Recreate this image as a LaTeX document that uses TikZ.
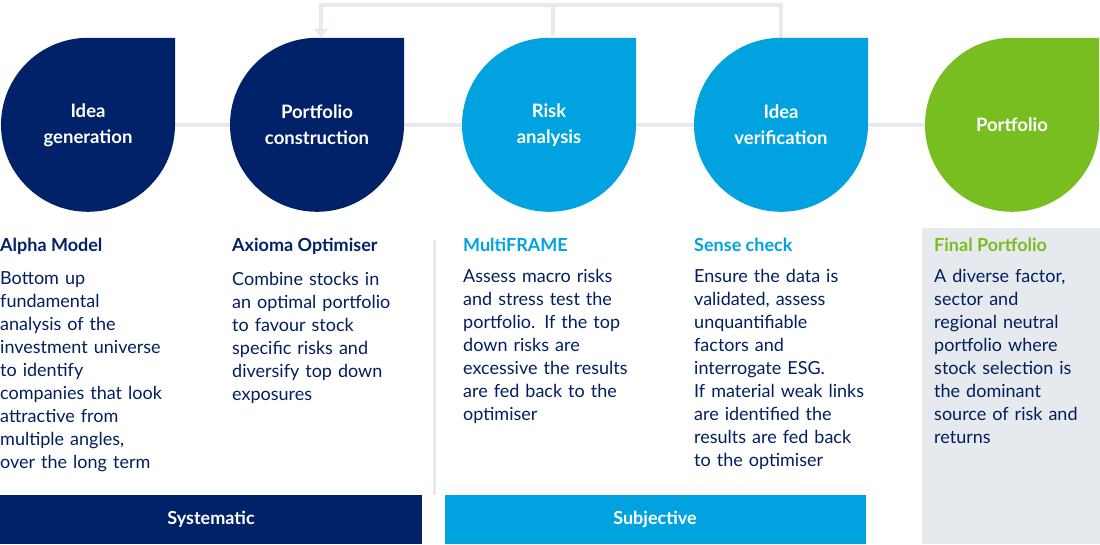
\documentclass[tikz,border=0pt]{standalone}
\usepackage{fontspec}
\setmainfont{Lato}
\usetikzlibrary{positioning,arrows.meta}
\definecolor{navy}{RGB}{1,33,105}
\definecolor{sky}{RGB}{0,163,224}
\definecolor{leafgreen}{RGB}{120,190,32}
\definecolor{rule}{RGB}{230,233,237}
\newcommand{\leafshape}[2]{%
  \fill[#2] (#1.north) arc[start angle=90, end angle=360, radius=87pt]
    -- ([xshift=87pt]#1.north) -- cycle;}
\begin{document}
\begin{tikzpicture}[x=1pt, y=-1pt,
    c/.style={circle, minimum size=174pt, inner sep=0pt, align=center,
      text=white, font=\fontsize{18.5}{26}\selectfont\bfseries},
    head/.style={anchor=north west, inner sep=0pt, font=\fontsize{18}{22}\selectfont\bfseries},
    body/.style={anchor=north west, inner sep=0pt, text width=185pt, align=left,
      font=\fontsize{18}{23}\selectfont, text=navy!90!black},
    bar/.style={text=white, font=\fontsize{18}{22}\selectfont\bfseries}]
  \useasboundingbox (0,0) rectangle (1100,544);
  % background for the last column
  \fill[rule] (922,228) rectangle (1100,544);
  \draw[rule, line width=3pt] (434,240) -- (434,495);
  % circles
  \node[c] (a) at (88,125) {};
  \node[c] (b) at (317,125) {};
  \node[c] (r) at (549,125) {};
  \node[c] (v) at (781,125) {};
  \node[c] (p) at (1012,125) {};
  \coordinate (l0) at (0,125);
  \coordinate (l1) at (1100,125);
  \coordinate (top) at (553,5);
  \draw[rule, line width=4pt] (l0) -- (l1);
  \draw[rule, line width=4pt, -{Triangle[length=9pt, width=14pt]}]
    (v.north) |- (top) -| ([xshift=4pt]b.north);
  \draw[rule, line width=4pt] (top) -- ([yshift=2pt, xshift=4pt]r.north);
  \leafshape{a}{navy}
  \leafshape{b}{navy}
  \leafshape{r}{sky}
  \leafshape{v}{sky}
  \leafshape{p}{leafgreen}
  \node[c] at (a) {Idea\\generation};
  \node[c] at (b) {Portfolio\\construction};
  \node[c] at (r) {Risk\\analysis};
  \node[c] at (v) {Idea\\verification};
  \node[c] at (p) {Portfolio};
  % column texts
  \node[head, text=navy] (h1) at (0,238) {Alpha Model};
  \node[head, text=navy] (h2) at (232,238) {Axioma Optimiser};
  \node[head, text=sky] (h3) at (463,238) {MultiFRAME};
  \node[head, text=sky] (h4) at (694,238) {Sense check};
  \node[head, text=leafgreen] (h5) at (934,238) {Final Portfolio};
  \node[body, below=17pt of h1.south west, anchor=north west] {Bottom up\\fundamental\\analysis of the\\investment universe\\to identify\\companies that look\\attractive from\\multiple angles,\\over the long term};
  \node[body, below=17pt of h2.south west, anchor=north west] {Combine stocks in\\an optimal portfolio\\to favour stock\\specific risks and\\diversify top down\\exposures};
  \node[body, below=17pt of h3.south west, anchor=north west] {Assess macro risks\\and stress test the\\portfolio. If the top\\down risks are\\excessive the results\\are fed back to the\\optimiser};
  \node[body, below=17pt of h4.south west, anchor=north west] {Ensure the data is\\validated, assess\\unquantifiable\\factors and\\interrogate ESG.\\If material weak links\\are identified the\\results are fed back\\to the optimiser};
  \node[body, below=17pt of h5.south west, anchor=north west] {A diverse factor,\\sector and\\regional neutral\\portfolio where\\stock selection is\\the dominant\\source of risk and\\returns};
  % bottom bars
  \fill[navy] (0,495) rectangle (422,544);
  \fill[sky] (445,495) rectangle (866,544);
  \node[bar] (sys) at (211,519) {Systematic};
  \node[bar] (sub) at (655,519) {Subjective};
\end{tikzpicture}
\end{document}
